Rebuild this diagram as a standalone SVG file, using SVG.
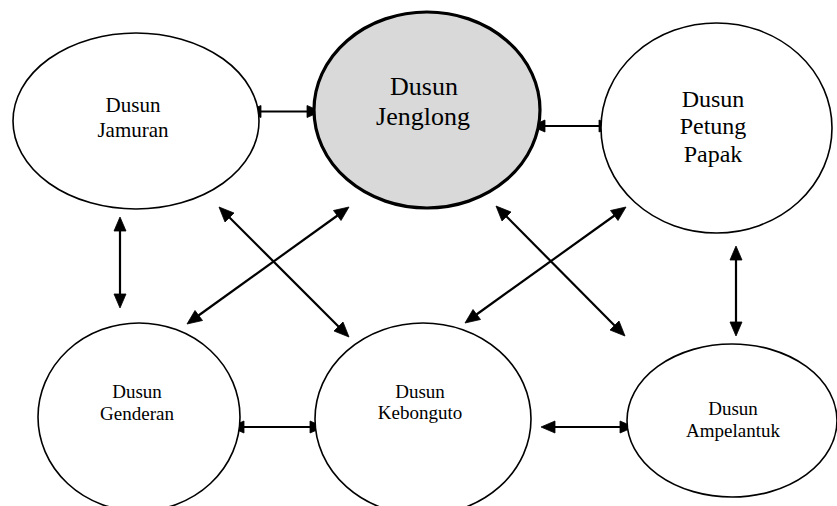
<svg xmlns="http://www.w3.org/2000/svg" width="837" height="506" viewBox="0 0 837 506">
<defs>
<style>
.node{fill:#ffffff;stroke:#000000;stroke-width:1.6}
.main{fill:#d9d9d9;stroke:#000000;stroke-width:3.2}
.c{stroke:#000000;stroke-width:2.2;fill:none}
.ah{fill:#000000;stroke:#000000;stroke-width:0.8;stroke-linejoin:miter}
.lbl{font-family:"Liberation Serif",serif;text-anchor:middle;fill:#000000}
</style>
</defs>
<rect x="0" y="0" width="837" height="506" fill="#ffffff"/>
<g id="connectors">
<line class="c" x1="258" y1="111.5" x2="310" y2="111.5"/>
<polygon class="ah" points="247,111.5 261,105.5 261,117.5"/>
<polygon class="ah" points="321,111.5 307,105.5 307,117.5"/>
<line class="c" x1="542" y1="126" x2="602" y2="126"/>
<polygon class="ah" points="531,126 545,120 545,132"/>
<polygon class="ah" points="613,126 599,120 599,132"/>
<line class="c" x1="120" y1="228" x2="120" y2="297"/>
<polygon class="ah" points="120,217 114,231 126,231"/>
<polygon class="ah" points="120,308 114,294 126,294"/>
<line class="c" x1="736" y1="257" x2="736" y2="325"/>
<polygon class="ah" points="736,246 730,260 742,260"/>
<polygon class="ah" points="736,336 730,322 742,322"/>
<line class="c" x1="241" y1="427" x2="313" y2="427"/>
<polygon class="ah" points="230,427 244,421 244,433"/>
<polygon class="ah" points="324,427 310,421 310,433"/>
<line class="c" x1="552" y1="427" x2="623" y2="427"/>
<polygon class="ah" points="541,427 555,421 555,433"/>
<polygon class="ah" points="634,427 620,421 620,433"/>
<line class="c" x1="229" y1="217" x2="339" y2="327"/>
<polygon class="ah" points="219,207 225,222 234,213"/>
<polygon class="ah" points="349,337 334,331 343,322"/>
<line class="c" x1="337.5" y1="215.5" x2="198.5" y2="315.5"/>
<polygon class="ah" points="187,324 195,310.5 202.5,320.5"/>
<polygon class="ah" points="349,207 333.5,210.5 341,220.5"/>
<line class="c" x1="506" y1="216" x2="615" y2="326"/>
<polygon class="ah" points="496,206 502,221 511,212"/>
<polygon class="ah" points="625,336 610,330 619,321"/>
<line class="c" x1="614.5" y1="215.5" x2="476.5" y2="314.5"/>
<polygon class="ah" points="465,323 473,309.5 480.5,319.5"/>
<polygon class="ah" points="626,207 610.5,210.5 618,220.5"/>
</g>
<g id="jamuran">
<ellipse class="node" cx="136" cy="121" rx="123" ry="88"/>
<text class="lbl" x="133" y="112" font-size="21">Dusun</text>
<text class="lbl" x="133" y="137" font-size="21">Jamuran</text>
</g>
<g id="jenglong">
<ellipse class="main" cx="427" cy="110" rx="113" ry="98"/>
<text class="lbl" x="424" y="95" font-size="26">Dusun</text>
<text class="lbl" x="423" y="125" font-size="26">Jenglong</text>
</g>
<g id="petung-papak">
<ellipse class="node" cx="716.5" cy="128" rx="115.5" ry="105"/>
<text class="lbl" x="713" y="107" font-size="24">Dusun</text>
<text class="lbl" x="713" y="134" font-size="24">Petung</text>
<text class="lbl" x="713" y="162" font-size="24">Papak</text>
</g>
<g id="genderan">
<ellipse class="node" cx="139" cy="417" rx="101" ry="94"/>
<text class="lbl" x="137" y="398" font-size="19">Dusun</text>
<text class="lbl" x="137" y="420" font-size="19">Genderan</text>
</g>
<g id="kebonguto">
<ellipse class="node" cx="423" cy="419" rx="108" ry="96"/>
<text class="lbl" x="420" y="398" font-size="19">Dusun</text>
<text class="lbl" x="420" y="419" font-size="19">Kebonguto</text>
</g>
<g id="ampelantuk">
<ellipse class="node" cx="732" cy="420.5" rx="105" ry="76.5"/>
<text class="lbl" x="733" y="415" font-size="19">Dusun</text>
<text class="lbl" x="733" y="437" font-size="19">Ampelantuk</text>
</g>
</svg>
